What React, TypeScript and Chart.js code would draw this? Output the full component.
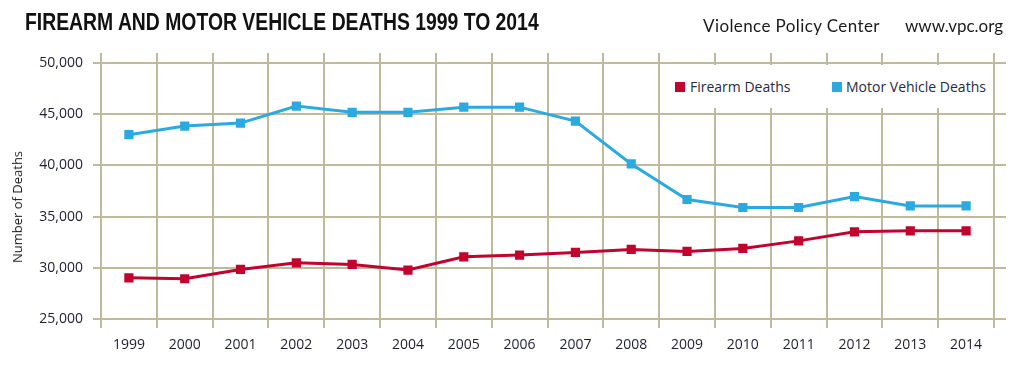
import React, { useEffect, useRef } from "react";
import { Chart, registerables } from "chart.js";

Chart.register(...registerables);

const years: string[] = [
  "1999", "2000", "2001", "2002", "2003", "2004", "2005", "2006",
  "2007", "2008", "2009", "2010", "2011", "2012", "2013", "2014",
];

const firearmDeaths: number[] = [
  29020, 28930, 29840, 30490, 30330, 29780, 31070, 31240,
  31500, 31790, 31600, 31890, 32630, 33510, 33610, 33610,
];

const motorVehicleDeaths: number[] = [
  43000, 43840, 44130, 45790, 45180, 45180, 45690, 45690,
  44330, 40140, 36670, 35890, 35890, 36960, 36040, 36040,
];

const yMin = 25000;
const yMax = 50000;
const yStep = 5000;

const RED = "#c1032e";
const BLUE = "#2aaae1";
const GRID = "#c0ba9c";

export default function App() {
  const canvasRef = useRef<HTMLCanvasElement | null>(null);

  useEffect(() => {
    if (!canvasRef.current) return;
    const tickFont = { family: "'Open Sans', sans-serif", size: 14 };
    const chart = new Chart(canvasRef.current, {
      type: "line",
      data: {
        labels: years,
        datasets: [
          {
            label: "Firearm Deaths",
            data: firearmDeaths,
            borderColor: RED,
            backgroundColor: RED,
            borderWidth: 3,
            pointStyle: "rect",
            pointRadius: 6.5,
            pointBorderWidth: 0,
            tension: 0,
            xAxisID: "x",
            yAxisID: "y",
          },
          {
            label: "Motor Vehicle Deaths",
            data: motorVehicleDeaths,
            borderColor: BLUE,
            backgroundColor: BLUE,
            borderWidth: 3,
            pointStyle: "rect",
            pointRadius: 6.5,
            pointBorderWidth: 0,
            tension: 0,
            xAxisID: "x",
            yAxisID: "y",
          },
        ],
      },
      options: {
        animation: false,
        responsive: false,
        maintainAspectRatio: false,
        devicePixelRatio: 1,
        layout: { padding: 0 },
        plugins: {
          legend: { display: false },
          tooltip: { enabled: false },
          title: { display: false },
        },
        scales: {
          x: {
            type: "category",
            position: "bottom",
            offset: true,
            grid: {
              color: GRID,
              lineWidth: 2,
              offset: true,
              tickLength: 9,
              drawTicks: true,
            },
            border: { color: GRID, width: 2 },
            ticks: {
              color: "#1e1e34",
              font: { family: "'Open Sans', sans-serif", size: 14 },
              padding: 9,
              maxRotation: 0,
              autoSkip: false,
            },
            afterFit: (s: any) => {
              s.height = 46;
            },
          },
          x2: {
            type: "category",
            labels: years,
            position: "top",
            offset: true,
            grid: {
              color: GRID,
              lineWidth: 2,
              offset: true,
              tickLength: 10,
              drawOnChartArea: false,
            },
            border: { display: false },
            ticks: { display: false },
            afterFit: (s: any) => {
              s.height = 63;
            },
          },
          y: {
            type: "linear",
            position: "left",
            min: yMin,
            max: yMax,
            grid: { color: GRID, lineWidth: 2, tickLength: 8 },
            border: { color: GRID, width: 2 },
            ticks: {
              stepSize: yStep,
              color: "#1e1e34",
              font: tickFont,
              padding: 10,
              callback: (v: any) => Number(v).toLocaleString("en-US"),
            },
            afterFit: (s: any) => {
              s.width = 101;
            },
          },
          y2: {
            type: "linear",
            position: "right",
            min: yMin,
            max: yMax,
            grid: {
              color: GRID,
              lineWidth: 2,
              tickLength: 12,
              drawOnChartArea: false,
            },
            border: { display: false },
            ticks: { display: false, stepSize: yStep },
            afterFit: (s: any) => {
              s.width = 30;
            },
          },
        },
      },
    });
    return () => chart.destroy();
  }, []);

  const legendText: React.CSSProperties = {
    position: "absolute",
    fontFamily: "'Open Sans', sans-serif",
    fontSize: 14,
    lineHeight: "16px",
    color: "#2a2a40",
    whiteSpace: "nowrap",
  };

  return (
    <div
      style={{
        position: "fixed",
        left: 0,
        top: 0,
        width: 1024,
        height: 365,
        background: "#fff",
        overflow: "hidden",
      }}
    >
      <canvas
        ref={canvasRef}
        width={1024}
        height={365}
        style={{ position: "absolute", left: 0, top: 0, width: 1024, height: 365 }}
      />
      <div
        style={{
          position: "absolute",
          left: 25,
          top: 11,
          fontFamily: "'Liberation Sans', Arial, sans-serif",
          fontWeight: 700,
          fontSize: 23,
          lineHeight: "23px",
          color: "#111",
          whiteSpace: "nowrap",
          transform: "scaleX(0.842)",
          transformOrigin: "0 0",
        }}
      >
        FIREARM AND MOTOR VEHICLE DEATHS 1999 TO 2014
      </div>
      <div
        style={{
          position: "absolute",
          left: 703,
          top: 17,
          fontFamily: "Lato, sans-serif",
          fontSize: 17,
          lineHeight: "18px",
          letterSpacing: "0.4px",
          color: "#1a1a1a",
          whiteSpace: "nowrap",
        }}
      >
        Violence Policy Center
      </div>
      <div
        style={{
          position: "absolute",
          left: 905,
          top: 17,
          fontFamily: "Lato, sans-serif",
          fontSize: 17,
          lineHeight: "18px",
          color: "#1a1a1a",
          whiteSpace: "nowrap",
        }}
      >
        www.vpc.org
      </div>
      <div
        style={{
          position: "absolute",
          left: 17,
          top: 207,
          transform: "translate(-50%, -50%) rotate(-90deg)",
          fontFamily: "'Open Sans', sans-serif",
          fontSize: 13,
          lineHeight: "14px",
          color: "#1e1e1e",
          whiteSpace: "nowrap",
        }}
      >
        Number of Deaths
      </div>
      <div
        style={{
          position: "absolute",
          left: 663,
          top: 65,
          width: 329,
          height: 43,
          background: "#fff",
        }}
      >
        <div
          style={{
            position: "absolute",
            left: 12,
            top: 17,
            width: 10,
            height: 10,
            background: RED,
          }}
        />
        <div style={{ ...legendText, left: 27, top: 14 }}>Firearm Deaths</div>
        <div
          style={{
            position: "absolute",
            left: 169,
            top: 17,
            width: 10,
            height: 10,
            background: BLUE,
          }}
        />
        <div style={{ ...legendText, left: 183, top: 14 }}>Motor Vehicle Deaths</div>
      </div>
    </div>
  );
}
